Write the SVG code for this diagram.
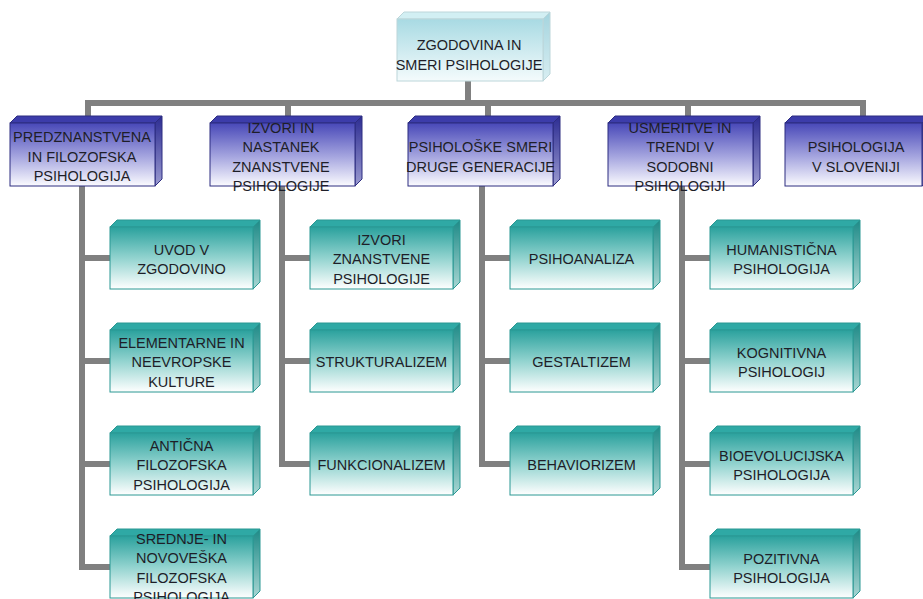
<svg xmlns="http://www.w3.org/2000/svg" width="923" height="599" viewBox="0 0 923 599">
<defs>
<linearGradient id="gBlueF" x1="0" y1="0" x2="0" y2="1"><stop offset="0" stop-color="#4848b8"/><stop offset="0.55" stop-color="#a8a8e0"/><stop offset="1" stop-color="#fbfbff"/></linearGradient>
<linearGradient id="gBlueS" x1="0" y1="0" x2="0" y2="1"><stop offset="0" stop-color="#2c2c92"/><stop offset="1" stop-color="#9a9ad0"/></linearGradient>
<linearGradient id="gTealF" x1="0" y1="0" x2="0" y2="1"><stop offset="0" stop-color="#2aa19d"/><stop offset="0.5" stop-color="#92d3cf"/><stop offset="1" stop-color="#ffffff"/></linearGradient>
<linearGradient id="gTealS" x1="0" y1="0" x2="0" y2="1"><stop offset="0" stop-color="#1e8a87"/><stop offset="1" stop-color="#a8d6d3"/></linearGradient>
<linearGradient id="gTopF" x1="0" y1="0" x2="0" y2="1"><stop offset="0" stop-color="#a8dae3"/><stop offset="1" stop-color="#f4fbfc"/></linearGradient>
<linearGradient id="gTopS" x1="0" y1="0" x2="0" y2="1"><stop offset="0" stop-color="#a4d4de"/><stop offset="1" stop-color="#d8eef2"/></linearGradient>
</defs>
<style>
.c{fill:none;stroke:#808080;stroke-width:6;stroke-linejoin:miter;stroke-linecap:butt}
.bf{fill:url(#gBlueF);stroke:#2d2d80;stroke-width:1}
.bt{fill:#3c3caa;stroke:#2d2d80;stroke-width:1}
.bs{fill:url(#gBlueS);stroke:#2d2d80;stroke-width:1}
.tf{fill:url(#gTealF);stroke:#2a9893;stroke-width:1}
.tt{fill:#2fa9a5;stroke:#2a9893;stroke-width:1}
.ts{fill:url(#gTealS);stroke:#2a9893;stroke-width:1}
.rf{fill:url(#gTopF);stroke:#bcd6da;stroke-width:1}
.rt{fill:#d2eff3;stroke:#bcd6da;stroke-width:1}
.rs{fill:url(#gTopS);stroke:#bcd6da;stroke-width:1}
text{font-family:"Liberation Sans",Arial,sans-serif;font-size:14.5px;fill:#1e1e28;text-anchor:middle}
</style>
<rect width="923" height="599" fill="#ffffff"/>
<g id="connectors">
<path class="c" d="M468,81V103"/>
<path class="c" d="M88,117V103H863V117"/>
<path class="c" d="M288,103V117M488,103V117M688,103V117"/>
<path class="c" d="M82,186V567H110M82,258H110M82,361H110M82,464H110"/>
<path class="c" d="M282,186V464H310M282,258H310M282,361H310"/>
<path class="c" d="M482,186V464H510M482,258H510M482,361H510"/>
<path class="c" d="M682,186V567H710M682,258H710M682,361H710M682,464H710"/>
</g>
<g id="root">
<polygon class="rt" points="397,19 404,12 550,12 543,19"/>
<polygon class="rs" points="543,19 550,12 550,74 543,81"/>
<rect class="rf" x="397" y="19" width="146" height="62"/>
<text x="469" y="50">ZGODOVINA IN</text>
<text x="469" y="70">SMERI PSIHOLOGIJE</text>
</g>
<g id="n1">
<polygon class="bt" points="10,123 17,116 162,116 155,123"/>
<polygon class="bs" points="155,123 162,116 162,179 155,186"/>
<rect class="bf" x="10" y="123" width="145" height="63"/>
<text x="82" y="142">PREDZNANSTVENA</text>
<text x="82" y="161.5">IN FILOZOFSKA</text>
<text x="82" y="181">PSIHOLOGIJA</text>
</g>
<g id="n2">
<polygon class="bt" points="210,123 217,116 362,116 355,123"/>
<polygon class="bs" points="355,123 362,116 362,179 355,186"/>
<rect class="bf" x="210" y="123" width="145" height="63"/>
<text x="281" y="132.5">IZVORI IN</text>
<text x="281" y="152">NASTANEK</text>
<text x="281" y="171.5">ZNANSTVENE</text>
<text x="281" y="191">PSIHOLOGIJE</text>
</g>
<g id="n3">
<polygon class="bt" points="408,123 415,116 560,116 553,123"/>
<polygon class="bs" points="553,123 560,116 560,179 553,186"/>
<rect class="bf" x="408" y="123" width="145" height="63"/>
<text x="480.5" y="152">PSIHOLOŠKE SMERI</text>
<text x="480.5" y="171.5">DRUGE GENERACIJE</text>
</g>
<g id="n4">
<polygon class="bt" points="608,123 615,116 760,116 753,123"/>
<polygon class="bs" points="753,123 760,116 760,179 753,186"/>
<rect class="bf" x="608" y="123" width="145" height="63"/>
<text x="680" y="132.5">USMERITVE IN</text>
<text x="680" y="152">TRENDI V</text>
<text x="680" y="171.5">SODOBNI</text>
<text x="680" y="191">PSIHOLOGIJI</text>
</g>
<g id="n5">
<polygon class="bt" points="785,123 792,116 929,116 922,123"/>
<polygon class="bs" points="922,123 929,116 929,179 922,186"/>
<rect class="bf" x="785" y="123" width="137" height="63"/>
<text x="856" y="152">PSIHOLOGIJA</text>
<text x="856" y="171.5">V SLOVENIJI</text>
</g>
<g id="c1a">
<polygon class="tt" points="110,227 117,220 260,220 253,227"/>
<polygon class="ts" points="253,227 260,220 260,282 253,289"/>
<rect class="tf" x="110" y="227" width="143" height="62"/>
<text x="181.5" y="254.5">UVOD V</text>
<text x="181.5" y="274">ZGODOVINO</text>
</g>
<g id="c1b">
<polygon class="tt" points="110,330 117,323 260,323 253,330"/>
<polygon class="ts" points="253,330 260,323 260,385 253,392"/>
<rect class="tf" x="110" y="330" width="143" height="62"/>
<text x="181.5" y="347.5">ELEMENTARNE IN</text>
<text x="181.5" y="367">NEEVROPSKE</text>
<text x="181.5" y="386.5">KULTURE</text>
</g>
<g id="c1c">
<polygon class="tt" points="110,433 117,426 260,426 253,433"/>
<polygon class="ts" points="253,433 260,426 260,488 253,495"/>
<rect class="tf" x="110" y="433" width="143" height="62"/>
<text x="181.5" y="450.5">ANTIČNA</text>
<text x="181.5" y="470">FILOZOFSKA</text>
<text x="181.5" y="489.5">PSIHOLOGIJA</text>
</g>
<g id="c1d">
<polygon class="tt" points="110,536 117,529 260,529 253,536"/>
<polygon class="ts" points="253,536 260,529 260,591 253,598"/>
<rect class="tf" x="110" y="536" width="143" height="62"/>
<text x="181.5" y="543.5">SREDNJE- IN</text>
<text x="181.5" y="563">NOVOVEŠKA</text>
<text x="181.5" y="582.5">FILOZOFSKA</text>
<text x="181.5" y="602">PSIHOLOGIJA</text>
</g>
<g id="c2a">
<polygon class="tt" points="310,227 317,220 460,220 453,227"/>
<polygon class="ts" points="453,227 460,220 460,282 453,289"/>
<rect class="tf" x="310" y="227" width="143" height="62"/>
<text x="381.5" y="244.5">IZVORI</text>
<text x="381.5" y="264">ZNANSTVENE</text>
<text x="381.5" y="283.5">PSIHOLOGIJE</text>
</g>
<g id="c2b">
<polygon class="tt" points="310,330 317,323 460,323 453,330"/>
<polygon class="ts" points="453,330 460,323 460,385 453,392"/>
<rect class="tf" x="310" y="330" width="143" height="62"/>
<text x="381.5" y="367">STRUKTURALIZEM</text>
</g>
<g id="c2c">
<polygon class="tt" points="310,433 317,426 460,426 453,433"/>
<polygon class="ts" points="453,433 460,426 460,488 453,495"/>
<rect class="tf" x="310" y="433" width="143" height="62"/>
<text x="381.5" y="470">FUNKCIONALIZEM</text>
</g>
<g id="c3a">
<polygon class="tt" points="510,227 517,220 660,220 653,227"/>
<polygon class="ts" points="653,227 660,220 660,282 653,289"/>
<rect class="tf" x="510" y="227" width="143" height="62"/>
<text x="581.5" y="264">PSIHOANALIZA</text>
</g>
<g id="c3b">
<polygon class="tt" points="510,330 517,323 660,323 653,330"/>
<polygon class="ts" points="653,330 660,323 660,385 653,392"/>
<rect class="tf" x="510" y="330" width="143" height="62"/>
<text x="581.5" y="367">GESTALTIZEM</text>
</g>
<g id="c3c">
<polygon class="tt" points="510,433 517,426 660,426 653,433"/>
<polygon class="ts" points="653,433 660,426 660,488 653,495"/>
<rect class="tf" x="510" y="433" width="143" height="62"/>
<text x="581.5" y="470">BEHAVIORIZEM</text>
</g>
<g id="c4a">
<polygon class="tt" points="710,227 717,220 860,220 853,227"/>
<polygon class="ts" points="853,227 860,220 860,282 853,289"/>
<rect class="tf" x="710" y="227" width="143" height="62"/>
<text x="781.5" y="254.5">HUMANISTIČNA</text>
<text x="781.5" y="274">PSIHOLOGIJA</text>
</g>
<g id="c4b">
<polygon class="tt" points="710,330 717,323 860,323 853,330"/>
<polygon class="ts" points="853,330 860,323 860,385 853,392"/>
<rect class="tf" x="710" y="330" width="143" height="62"/>
<text x="781.5" y="357.5">KOGNITIVNA</text>
<text x="781.5" y="377">PSIHOLOGIJ</text>
</g>
<g id="c4c">
<polygon class="tt" points="710,433 717,426 860,426 853,433"/>
<polygon class="ts" points="853,433 860,426 860,488 853,495"/>
<rect class="tf" x="710" y="433" width="143" height="62"/>
<text x="781.5" y="460.5">BIOEVOLUCIJSKA</text>
<text x="781.5" y="480">PSIHOLOGIJA</text>
</g>
<g id="c4d">
<polygon class="tt" points="710,536 717,529 860,529 853,536"/>
<polygon class="ts" points="853,536 860,529 860,591 853,598"/>
<rect class="tf" x="710" y="536" width="143" height="62"/>
<text x="781.5" y="563.5">POZITIVNA</text>
<text x="781.5" y="583">PSIHOLOGIJA</text>
</g>
</svg>
